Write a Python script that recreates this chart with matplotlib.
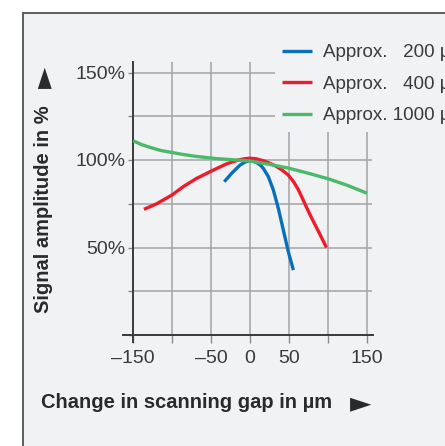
import matplotlib
matplotlib.use("Agg")
import matplotlib.pyplot as plt
from matplotlib.patches import Rectangle

plt.rcParams['font.family'] = ['Liberation Sans', 'DejaVu Sans']

# curve readings (change in scanning gap in um, signal amplitude in %)
gap_200 = [-33, -23.5, -12.8, -6, -1, 3, 8.5, 13, 17.1, 23.5, 29.9, 36.3, 42.7, 49.1, 55.6]
amp_200 = [87.6, 92.4, 97.1, 98.9, 99.6, 99.6, 98.5, 97.2, 95.2, 90.5, 82.9, 72.4, 60, 47.6, 37.1]

gap_400 = [-136, -120, -100, -85.5, -68.4, -49, -30, -15, -7, 0, 8, 19, 32, 41, 49, 56, 62, 68, 75, 82, 88, 98]
amp_400 = [71.8, 74.9, 80, 84.8, 89.5, 93.8, 97.8, 100, 100.7, 101, 100.7, 99.3, 96.8, 94.3, 91.4, 87.5, 83,
           77.3, 70.5, 64.2, 59, 50]

gap_1000 = [-150, -139, -128, -115, -100, -85, -68, -43, -17, 0, 25, 50, 75, 100, 125, 150]
amp_1000 = [111, 108.8, 107.2, 105.5, 104.3, 103.1, 102, 100.8, 100, 99.4, 97.5, 95.3, 92.4, 89.3, 85.5, 81]

labels = ['Approx. \u2007200 µm', 'Approx. \u2007400 µm', 'Approx. 1000 µm']
colors = ['#0a6fbb', '#ec1c2b', '#4aba68']

x_ticks = [-150, -100, -50, 0, 50, 100, 150]
x_ticklabels = ['–150', '', '–50', '0', '50', '', '150']
y_ticks = [0, 25, 50, 75, 100, 125, 150]
y_ticklabels = ['', '', '50%', '', '100%', '', '150%']

panel = '#f1f2f4'
txt = '#3a3a3a'

fig = plt.figure(figsize=(4.45, 4.46), dpi=100)
bg = fig.add_axes([0, 0, 1, 1], zorder=-10)
bg.set_xlim(0, 445)
bg.set_ylim(446, 0)
bg.axis('off')
bg.add_patch(Rectangle((23, 13), 440, 450, facecolor=panel, edgecolor='#505050', lw=1.3))

ax = fig.add_axes([133 / 445, 111 / 446, 239 / 445, 273 / 446])
ax.set_facecolor('none')
ax.set_xlim(-150, 156.4)
ax.set_ylim(0, 156)
for s in ax.spines.values():
    s.set_visible(False)

ax.set_xticks(x_ticks)
ax.set_xticklabels(x_ticklabels, fontsize=14, color=txt)
ax.set_yticks(y_ticks)
ax.set_yticklabels(y_ticklabels, fontsize=14, color=txt)
ax.tick_params(axis='x', length=5.5, width=1, color='#8a8a8a', pad=5)
ax.tick_params(axis='y', length=3.5, width=1, color='#8a8a8a', pad=2)
ax.grid(True, color='#a3a3a3', lw=1.1)
ax.set_axisbelow(True)

# axis lines
ax.plot([-162.8, 157.7], [0, 0], color='#3a3a3a', lw=1.4, clip_on=False, zorder=3)
ax.plot([-150, -150], [-4, 156], color='#3a3a3a', lw=1.4, clip_on=False, zorder=3)

for gx, gy, c, lab in [(gap_200, amp_200, colors[0], labels[0]),
                       (gap_400, amp_400, colors[1], labels[1]),
                       (gap_1000, amp_1000, colors[2], labels[2])]:
    ax.plot(gx, gy, color=c, lw=2.4, label=lab, solid_capstyle='butt',
            solid_joinstyle='round', zorder=4)

leg = ax.legend(loc='upper left', bbox_to_anchor=(0.594, 1.093), borderaxespad=0,
                frameon=True, facecolor=panel, edgecolor='none', framealpha=1,
                fontsize=13.5, handlelength=1.6, handletextpad=0.55,
                labelspacing=0.77, borderpad=0.4, fancybox=False)
for t in leg.get_texts():
    t.set_color(txt)

fig.text(41 / 445, 1 - 403 / 446, 'Change in scanning gap in µm', fontsize=14.5,
         fontweight='bold', color='#2a2a2a', ha='left', va='center')
fig.text(361 / 445, 1 - 403 / 446, '►', family='DejaVu Sans', fontsize=20,
         color='#2a2a2a', ha='center', va='center')
fig.text(44 / 445, 1 - 209 / 446, 'Signal amplitude in %', fontsize=14.5,
         fontweight='bold', color='#2a2a2a', ha='center', va='center', rotation=90)
fig.text(44 / 445, 1 - 77 / 446, '►', family='DejaVu Sans', fontsize=20,
         color='#2a2a2a', ha='center', va='center', rotation=90)

fig.savefig('out.png', dpi=100)
